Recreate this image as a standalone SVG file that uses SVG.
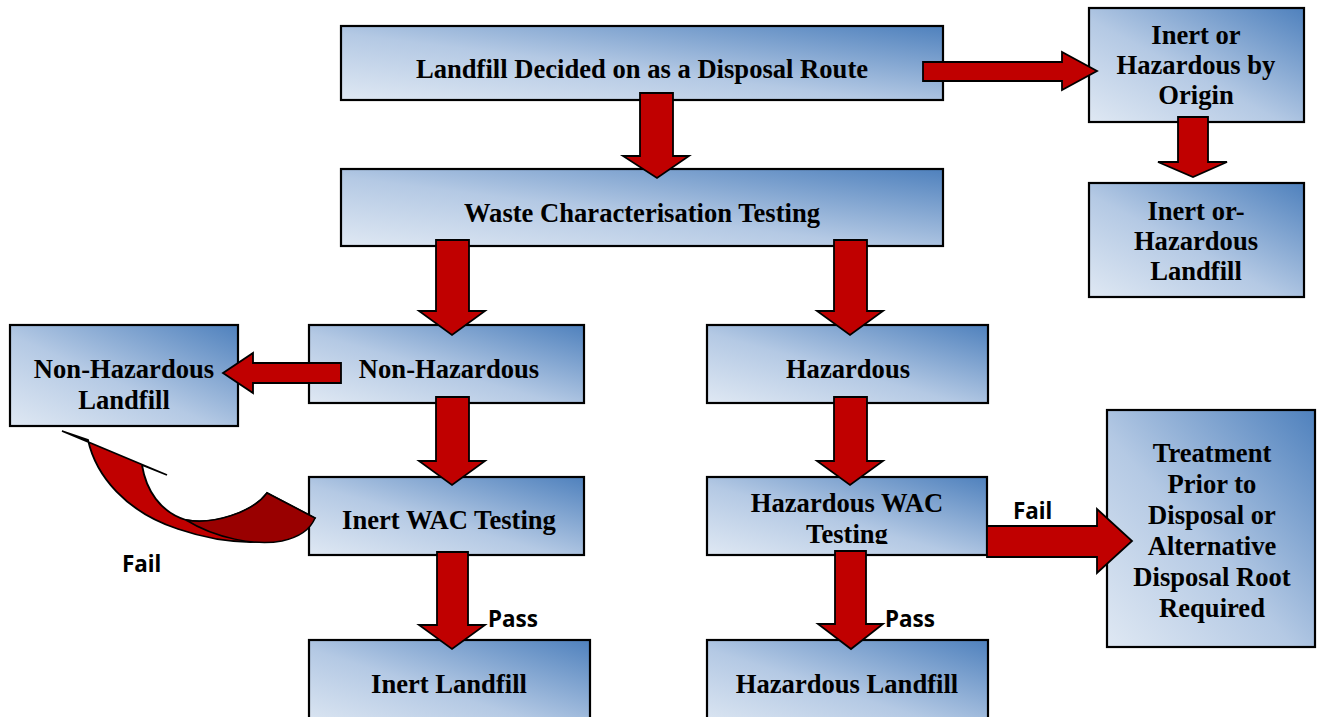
<svg xmlns="http://www.w3.org/2000/svg" width="1322" height="717" viewBox="0 0 1322 717">
<style>
.box{fill:url(#g);stroke:#000;stroke-width:2.2}
.t{font-family:"Liberation Serif","Times New Roman",serif;font-weight:bold;font-size:26.6px;fill:#000;text-anchor:middle}
.lab{font-family:"Noto Sans","Open Sans",sans-serif;font-weight:bold;font-size:22.5px;fill:#000}
.arr{fill:#c00000;stroke:#000;stroke-width:1.8;stroke-linejoin:miter}
</style>
<defs>
<linearGradient id="g" x1="0" y1="1" x2="1" y2="0">
<stop offset="0" stop-color="#dfe8f3"/>
<stop offset="0.45" stop-color="#b4c9e4"/>
<stop offset="1" stop-color="#4f81bd"/>
</linearGradient>
<clipPath id="clipHW"><rect x="700" y="470" width="300" height="74"/></clipPath>
</defs>
<rect width="1322" height="717" fill="#fff"/>

<g id="n-landfill-decided"><rect class="box" x="341" y="26" width="602" height="74"/><text class="t" x="642" y="78">Landfill Decided on as a Disposal Route</text></g>
<g id="n-origin"><rect class="box" x="1089" y="8" width="215" height="114"/><text class="t" x="1196" y="44">Inert or</text><text class="t" x="1196" y="74">Hazardous by</text><text class="t" x="1196" y="104">Origin</text></g>
<g id="n-inert-haz-landfill"><rect class="box" x="1089" y="183" width="215" height="114"/><text class="t" x="1196" y="220">Inert or-</text><text class="t" x="1196" y="250">Hazardous</text><text class="t" x="1196" y="280">Landfill</text></g>
<g id="n-wct"><rect class="box" x="341" y="169" width="602" height="77"/><text class="t" x="642" y="222">Waste Characterisation Testing</text></g>
<g id="n-nonhaz-landfill"><rect class="box" x="10" y="325" width="228" height="101"/><text class="t" x="124" y="378">Non-Hazardous</text><text class="t" x="124" y="409">Landfill</text></g>
<g id="n-nonhaz"><rect class="box" x="309" y="325" width="275" height="78"/><text class="t" x="449" y="378">Non-Hazardous</text></g>
<g id="n-haz"><rect class="box" x="707" y="325" width="281" height="78"/><text class="t" x="848" y="378">Hazardous</text></g>
<g id="n-inert-wac"><rect class="box" x="309" y="477" width="275" height="78"/><text class="t" x="449" y="529">Inert WAC Testing</text></g>
<g id="n-haz-wac"><rect class="box" x="707" y="477" width="280" height="78"/><g clip-path="url(#clipHW)"><text class="t" x="847" y="512">Hazardous WAC</text><text class="t" x="847" y="543">Testing</text></g></g>
<g id="n-treatment"><rect class="box" x="1107" y="410" width="208" height="237"/><text class="t" x="1212" y="462">Treatment</text><text class="t" x="1212" y="493">Prior to</text><text class="t" x="1212" y="524">Disposal or</text><text class="t" x="1212" y="555">Alternative</text><text class="t" x="1212" y="586">Disposal Root</text><text class="t" x="1212" y="617">Required</text></g>
<g id="n-inert-landfill"><rect class="box" x="309" y="640" width="281" height="90"/><text class="t" x="449" y="693">Inert Landfill</text></g>
<g id="n-haz-landfill"><rect class="box" x="707" y="640" width="281" height="90"/><text class="t" x="847" y="693">Hazardous Landfill</text></g>

<g id="connectors">
<polygon class="arr" points="640,93 673,93 673,156 689,156 657,178 623,156 640,156"/>
<polygon class="arr" points="436,240 469,240 469,311 485,311 452,335 419,311 436,311"/>
<polygon class="arr" points="834,240 867,240 867,311 883,311 850,335 817,311 834,311"/>
<polygon class="arr" points="436,397 469,397 469,461 485,461 452,485 419,461 436,461"/>
<polygon class="arr" points="834,397 867,397 867,461 883,461 850,485 817,461 834,461"/>
<polygon class="arr" points="437,552 468,552 468,625 485,625 452,649 419,625 437,625"/>
<polygon class="arr" points="835,551 866,551 866,624 883,624 851,649 818,624 835,624"/>
<polygon class="arr" points="923,62 1062,62 1062,52 1097,71 1062,90 1062,81 923,81"/>
<polygon class="arr" points="1178,117 1208,117 1208,162 1227,162 1193,177 1158,162 1178,162"/>
<polygon class="arr" points="341,363 253,363 253,353 223,373 253,393 253,383 341,383"/>
<polygon class="arr" points="987,526 1097,526 1097,509 1132,541 1097,573 1097,557 987,557"/>
<path class="arr" d="M62,431 L88,440 C96,476 126,512 178,529 C228,546 292,550 315,518 L267,493 C252,513 212,525 186,520 C160,512 146,490 142,465 L167,475 Z"/>
<path d="M267,493 C252,513 212,525 186,520 C215,538 255,546 282,541 C300,537 311,528 315,518 Z" fill="#990000" stroke="#000" stroke-width="1.5"/>
<text class="lab" x="122" y="572">Fail</text>
<text class="lab" x="1013" y="519">Fail</text>
<text class="lab" x="488" y="627">Pass</text>
<text class="lab" x="885" y="627">Pass</text>
</g>
</svg>
